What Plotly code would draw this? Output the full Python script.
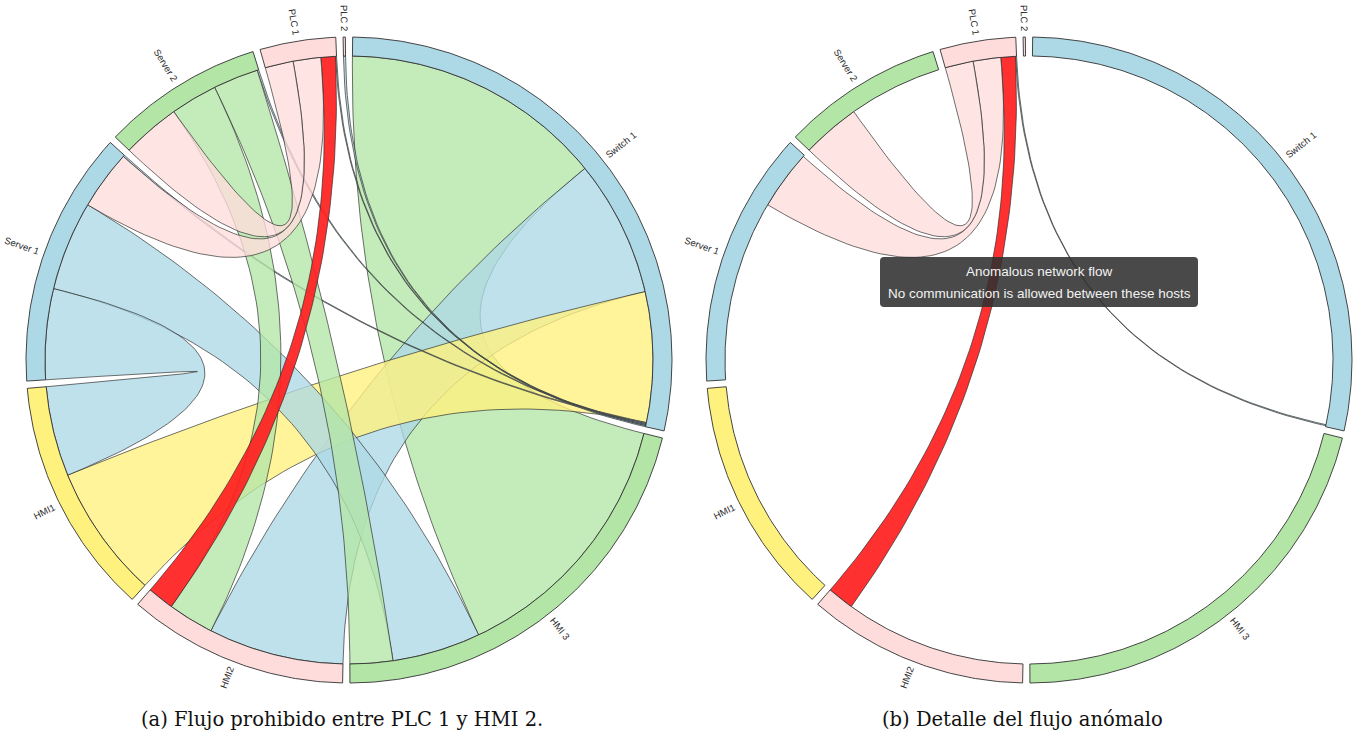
import math
import plotly.graph_objects as go

# ---------------------------------------------------------------- data
hosts = ["Switch 1", "HMI 3", "HMI2", "HMI1", "Server 1", "Server 2", "PLC 1", "PLC 2"]

# flows[i][j]: traffic observed at host i exchanged with host j
flow_switch1 = [0, 505, 262, 250, 2, 2, 2, 2]
flow_hmi3 = [510, 0, 0, 0, 170, 82, 0, 0]
flow_hmi2 = [260, 0, 0, 0, 0, 88, 51, 0]
flow_hmi1 = [257, 0, 0, 0, 173, 0, 0, 0]
flow_server1 = [3, 172, 0, 174, 0, 0, 114, 0]
flow_server2 = [3, 87, 90, 0, 0, 0, 112, 0]
flow_plc1 = [2, 0, 28, 0, 53, 54, 0, 0]
flow_plc2 = [4, 0, 0, 0, 0, 0, 0, 0]
flows = [flow_switch1, flow_hmi3, flow_hmi2, flow_hmi1,
         flow_server1, flow_server2, flow_plc1, flow_plc2]

forbidden_pairs = [("HMI2", "PLC 1")]
focus_host = "PLC 1"

captions = ["(a) Flujo prohibido entre PLC 1 y HMI 2.",
            "(b) Detalle del flujo anómalo"]
tooltip_lines = ["Anomalous network flow",
                 "No communication is allowed between these hosts"]

# ---------------------------------------------------------------- style
W, H = 1365, 737
R_IN, R_OUT = 304, 323
PAD = math.radians(1.3)
CENTERS = [(349, 360), (1029, 360)]

host_colour = {
    "Switch 1": (173, 216, 230),
    "HMI 3": (179, 230, 166),
    "HMI2": (255, 220, 220),
    "HMI1": (255, 241, 125),
    "Server 1": (173, 216, 230),
    "Server 2": (179, 230, 166),
    "PLC 1": (255, 220, 220),
    "PLC 2": (255, 220, 220),
}
# which host lends its colour to each ribbon
ribbon_colour_from = {
    ("Switch 1", "HMI 3"): "HMI 3",
    ("Switch 1", "HMI2"): "Switch 1",
    ("Switch 1", "HMI1"): "HMI1",
    ("HMI 3", "Server 1"): "Server 1",
    ("HMI1", "Server 1"): "Server 1",
    ("HMI2", "Server 2"): "Server 2",
    ("HMI 3", "Server 2"): "Server 2",
    ("Server 2", "PLC 1"): "PLC 1",
    ("Server 1", "PLC 1"): "PLC 1",
}
ALERT_RGB = (255, 30, 30)
RIBBON_ALPHA = 0.78
EDGE = "rgba(45,45,45,0.85)"
LABEL_SIZE = 9.5

# Arial advance widths (per 1000 em) for label sizing
ARIAL_W = {"S": 667, "w": 722, "i": 222, "t": 278, "c": 500, "h": 556, " ": 278,
           "1": 556, "2": 556, "3": 556, "H": 722, "M": 833, "I": 278, "e": 556,
           "r": 333, "v": 500, "P": 667, "L": 556, "C": 722}


def text_width(s, size):
    return sum(ARIAL_W.get(ch, 556) for ch in s) * size / 1000.0


# ---------------------------------------------------------------- layout
def chord_layout(matrix, pad):
    n = len(matrix)
    total = sum(sum(r) for r in matrix)
    k = (2 * math.pi - pad * n) / total
    x = pad / 2
    arcs, sub = [], {}
    for i in range(n):
        x0 = x
        for j in sorted(range(n), key=lambda c: -matrix[i][c]):
            w = matrix[i][j] * k
            sub[(i, j)] = (x, x + w)
            x += w
        arcs.append((x0, x))
        x += pad
    pairs = [(i, j) for i in range(n) for j in range(i, n)
             if matrix[i][j] or matrix[j][i]]
    return arcs, sub, pairs


def polar(c, r, a):
    return c[0] + r * math.sin(a), c[1] - r * math.cos(a)


def arc_points(c, r, a0, a1):
    steps = max(2, int(abs(a1 - a0) / math.radians(0.5)) + 2)
    return [polar(c, r, a0 + (a1 - a0) * t / (steps - 1)) for t in range(steps)]


def quad_points(p0, ctrl, p1, steps=60):
    out = []
    for s in range(steps + 1):
        t = s / steps
        u = 1 - t
        out.append((u * u * p0[0] + 2 * u * t * ctrl[0] + t * t * p1[0],
                    u * u * p0[1] + 2 * u * t * ctrl[1] + t * t * p1[1]))
    return out


def ribbon_path(c, r, s0, s1, t0, t1):
    pts = arc_points(c, r, s0, s1)
    pts += quad_points(pts[-1], c, polar(c, r, t0))
    pts += arc_points(c, r, t0, t1)
    pts += quad_points(pts[-1], c, polar(c, r, s0))
    return pts


def annulus_path(c, a0, a1):
    return arc_points(c, R_OUT, a0, a1) + arc_points(c, R_IN, a1, a0) + [polar(c, R_OUT, a0)]


def rgba(rgb, a):
    return "rgba(%d,%d,%d,%.2f)" % (rgb[0], rgb[1], rgb[2], a)


arcs, sub, pairs = chord_layout(flows, PAD)
idx = {h: i for i, h in enumerate(hosts)}
forbidden_idx = {tuple(sorted((idx[a], idx[b]))) for a, b in forbidden_pairs}

fig = go.Figure()


def add_poly(pts, fill, line_col, line_w):
    fig.add_trace(go.Scatter(
        x=[p[0] for p in pts], y=[p[1] for p in pts],
        mode="lines", fill="toself", fillcolor=fill,
        line=dict(color=line_col, width=line_w),
        hoverinfo="skip", showlegend=False))


for panel, c in enumerate(CENTERS):
    focus = idx[focus_host] if panel == 1 else None
    # ribbons
    for (i, j) in pairs:
        if focus is not None and focus not in (i, j):
            continue
        s0, s1 = sub[(i, j)]
        t0, t1 = sub[(j, i)]
        key = (hosts[i], hosts[j])
        if (i, j) in forbidden_idx:
            fill = rgba(ALERT_RGB, 0.92)
        else:
            owner = ribbon_colour_from.get(key, hosts[i])
            fill = rgba(host_colour[owner], RIBBON_ALPHA)
        add_poly(ribbon_path(c, R_IN, s0, s1, t0, t1), fill, EDGE, 0.8)
    # host arcs
    for i, (a0, a1) in enumerate(arcs):
        add_poly(annulus_path(c, a0, a1), rgba(host_colour[hosts[i]], 1.0),
                 "rgba(50,50,50,0.9)", 1)

annotations = []
for c in CENTERS:
    for i, (a0, a1) in enumerate(arcs):
        mid = (a0 + a1) / 2
        deg = math.degrees(mid)
        w = text_width(hosts[i], LABEL_SIZE)
        cx, cy = polar(c, R_OUT + 6 + w / 2, mid)
        angle = deg - 90 if deg < 180 else deg - 270
        annotations.append(dict(
            x=cx, y=cy, xref="x", yref="y", text=hosts[i], showarrow=False,
            textangle=angle, xanchor="center", yanchor="middle",
            font=dict(family="Arial", size=LABEL_SIZE, color="#2a2a2a")))

# tooltip over the forbidden flow
tx0, ty0 = CENTERS[1][0] - 149, CENTERS[1][1] - 103
tw, th, rr = 318, 50, 4
shape_path = (f"M{tx0+rr},{ty0} L{tx0+tw-rr},{ty0} Q{tx0+tw},{ty0} {tx0+tw},{ty0+rr} "
              f"L{tx0+tw},{ty0+th-rr} Q{tx0+tw},{ty0+th} {tx0+tw-rr},{ty0+th} "
              f"L{tx0+rr},{ty0+th} Q{tx0},{ty0+th} {tx0},{ty0+th-rr} "
              f"L{tx0},{ty0+rr} Q{tx0},{ty0} {tx0+rr},{ty0} Z")
shapes = [dict(type="path", path=shape_path, xref="x", yref="y",
               fillcolor="rgba(48,48,48,0.88)", line=dict(width=0), layer="above")]
for k, line in enumerate(tooltip_lines):
    annotations.append(dict(
        x=tx0 + tw / 2, y=ty0 + 14 + 22 * k, xref="x", yref="y", text=line,
        showarrow=False, xanchor="center", yanchor="middle",
        font=dict(family="Arial", size=13.5, color="#f2f2f2")))

caption_x = [342, 1022]
for cx, cap in zip(caption_x, captions):
    annotations.append(dict(
        x=cx, y=719, xref="x", yref="y", text=cap, showarrow=False,
        xanchor="center", yanchor="middle",
        font=dict(family="DejaVu Serif", size=19.5, color="#111")))

fig.update_layout(
    width=W, height=H, margin=dict(l=0, r=0, t=0, b=0),
    paper_bgcolor="white", plot_bgcolor="white",
    xaxis=dict(range=[0, W], visible=False, fixedrange=True),
    yaxis=dict(range=[H, 0], visible=False, fixedrange=True),
    annotations=annotations, shapes=shapes,
)

fig.write_html("out.html")
